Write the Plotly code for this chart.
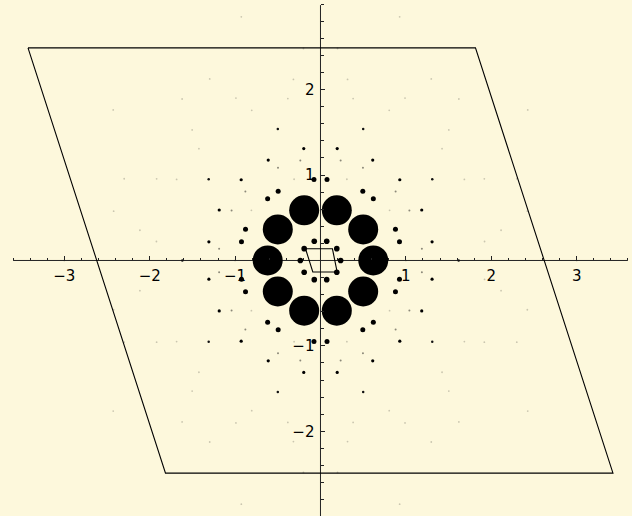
import numpy as np
import plotly.graph_objects as go

# ---- data (spots given as ring radius + angles in degrees) ----
big_r = 0.618
big_angles = [0, 36, 72, 108, 144, 180, 216, 252, 288, 324]

inner_r = 0.236
inner_angles = [0, 36, 72, 108, 144, 180, 216, 252, 288, 324]

mid_r = 0.951
mid_angles = [13.4, 22.6, 49.4, 58.6, 85.4, 94.6, 121.4, 130.6, 157.4, 166.6,
              193.4, 202.6, 229.4, 238.6, 265.4, 274.6, 301.4, 310.6, 337.4, 346.6]

small_r = 1.325
small_angles = [9.5, 26.5, 45.5, 62.5, 81.5, 98.5, 117.5, 134.5, 153.5, 170.5,
                189.5, 206.5, 225.5, 242.5, 261.5, 278.5, 297.5, 314.5, 333.5, 350.5]

tiny_r = 1.618
tiny_angles = [0, 36, 72, 108, 144, 180, 216, 252, 288, 324]

gray_r = 1.195
gray_angles = [6.6, 29.4, 42.6, 65.4, 78.6, 101.4, 114.6, 137.4, 150.6, 173.4,
               186.6, 209.4, 222.6, 245.4, 258.6, 281.4, 294.6, 317.4, 330.6, 353.4]

faint_rings = [
    (1.0,   [0, 36, 72, 108, 144, 180, 216, 252, 288, 324]),
    (1.934, [6.6, 29.4, 42.6, 65.4, 78.6, 101.4, 114.6, 137.4, 150.6, 173.4,
             186.6, 209.4, 222.6, 245.4, 258.6, 281.4, 294.6, 317.4, 330.6, 353.4]),
    (2.144, [9.5, 26.5, 45.5, 62.5, 81.5, 98.5, 117.5, 134.5, 153.5, 170.5,
             189.5, 206.5, 225.5, 242.5, 261.5, 278.5, 297.5, 314.5, 333.5, 350.5]),
    (2.49,  [13.4, 22.6, 49.4, 58.6, 85.4, 94.6, 121.4, 130.6, 157.4, 166.6,
             193.4, 202.6, 229.4, 238.6, 265.4, 274.6, 301.4, 310.6, 337.4, 346.6]),
    (3.0,   [0, 36, 72, 108, 144, 180, 216, 252, 288, 324]),
]

cell_large_x = [-3.425, 1.815, 3.425, -1.815, -3.425]
cell_large_y = [2.49, 2.49, -2.49, -2.49, 2.49]
cell_small_x = [-0.175, 0.14, 0.195, -0.09, -0.175]
cell_small_y = [0.137, 0.137, -0.135, -0.135, 0.137]

x_tick_vals = [-3, -2, -1, 1, 2, 3]
x_tick_text = ["\u22123", "\u22122", "\u22121", "1", "2", "3"]
y_tick_vals = [-2, -1, 1, 2]
y_tick_text = ["\u22122", "\u22121", "1", "2"]

BG = "#fdf8dc"
X_RANGE = [-3.753, 3.648]
Y_RANGE = [-2.992, 3.050]


def ring(r, angles):
    a = np.radians(angles)
    return r * np.cos(a), r * np.sin(a)


fig = go.Figure()

# cells
fig.add_trace(go.Scatter(x=cell_large_x, y=cell_large_y, mode="lines",
                         line=dict(color="black", width=1.1), hoverinfo="skip"))
fig.add_trace(go.Scatter(x=cell_small_x, y=cell_small_y, mode="lines",
                         line=dict(color="black", width=1.1), hoverinfo="skip"))

# faint spots
for r, ang in faint_rings:
    x, y = ring(r, ang)
    fig.add_trace(go.Scatter(x=x, y=y, mode="markers",
                             marker=dict(size=1.8, color="rgba(0,0,0,0.2)")))

for r, ang, size, color in [
    (gray_r, gray_angles, 2.0, "rgba(0,0,0,0.45)"),
    (tiny_r, tiny_angles, 2.5, "#111"),
    (small_r, small_angles, 3.2, "black"),
    (mid_r, mid_angles, 5.0, "black"),
    (inner_r, inner_angles, 5.6, "black"),
    (big_r, big_angles, 30, "black"),
]:
    x, y = ring(r, ang)
    fig.add_trace(go.Scatter(x=x, y=y, mode="markers",
                             marker=dict(size=size, color=color, line=dict(width=0))))

# axis lines
fig.add_shape(type="line", x0=-3.6, x1=3.6, y0=0, y1=0,
              line=dict(color="#222", width=1), layer="below")
fig.add_shape(type="line", x0=0, x1=0, y0=-3.1, y1=2.99,
              line=dict(color="#222", width=1), layer="below")

minor_x = [v for v in np.round(np.arange(-3.6, 3.61, 0.2), 1) if abs(v) > 1e-9]
minor_y = [v for v in np.round(np.arange(-3.0, 3.01, 0.2), 1) if abs(v) > 1e-9]

font = dict(family="DejaVu Sans", size=15, color="black")
x_pos = (0 - Y_RANGE[0]) / (Y_RANGE[1] - Y_RANGE[0])
y_pos = (0 - X_RANGE[0]) / (X_RANGE[1] - X_RANGE[0])

fig.update_layout(
    width=632, height=516,
    margin=dict(l=0, r=0, t=0, b=0),
    paper_bgcolor=BG, plot_bgcolor=BG,
    showlegend=False,
    xaxis=dict(range=X_RANGE, anchor="free", position=x_pos,
               showgrid=False, zeroline=False, showline=False,
               tickvals=x_tick_vals, ticktext=x_tick_text,
               ticks="inside", ticklen=4, tickwidth=1, tickcolor="#222",
               ticklabelstandoff=5,
               minor=dict(tickvals=minor_x, ticks="inside", ticklen=2.5,
                          tickwidth=1, tickcolor="#222", showgrid=False),
               tickfont=font, fixedrange=True),
    yaxis=dict(range=Y_RANGE, anchor="free", position=y_pos,
               showgrid=False, zeroline=False, showline=False,
               tickvals=y_tick_vals, ticktext=y_tick_text,
               ticks="inside", ticklen=4, tickwidth=1, tickcolor="#222",
               ticklabelstandoff=6,
               minor=dict(tickvals=minor_y, ticks="inside", ticklen=3,
                          tickwidth=1, tickcolor="#222", showgrid=False),
               tickfont=font, fixedrange=True),
)

fig.write_html(
    "out.html",
    config={"displayModeBar": False},
    post_script="document.body.style.margin='0';document.body.style.background='%s';" % BG,
)
